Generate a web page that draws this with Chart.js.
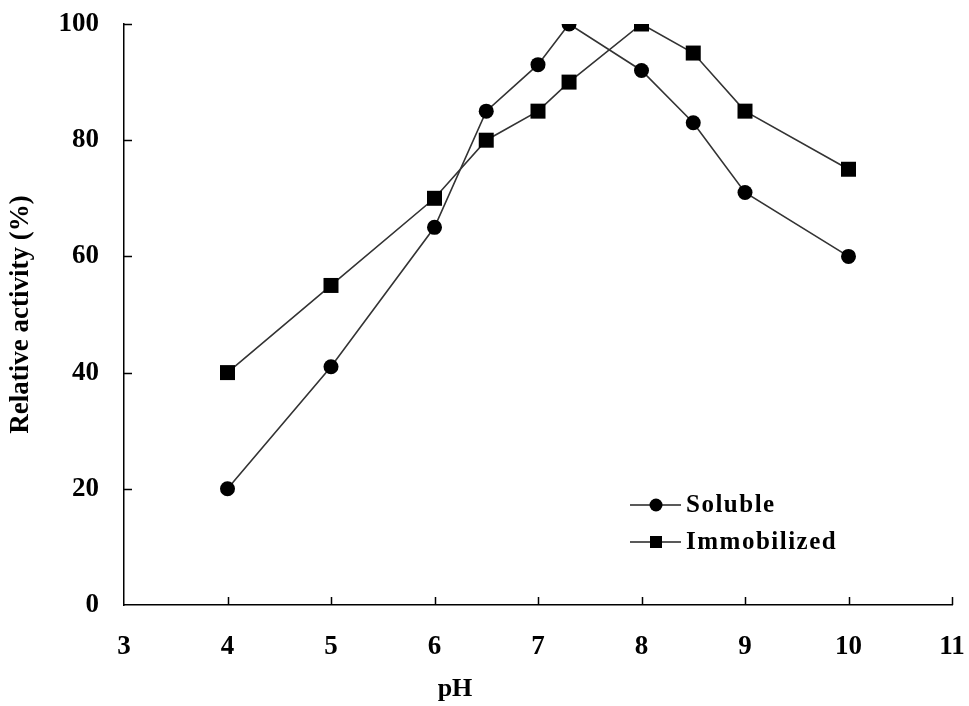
<!DOCTYPE html>
<html>
<head>
<meta charset="utf-8">
<script src="https://cdn.jsdelivr.net/npm/chart.js@4/dist/chart.umd.min.js"></script>
<style>
  body { margin: 0; background: #fff; }
  canvas { display: block; }
</style>
</head>
<body>
<canvas id="phChart" width="969" height="706"></canvas>
<script>
// --- data ---
const phValues = [4, 5, 6, 6.5, 7, 7.3, 8, 8.5, 9, 10];
const solubleActivity = [20, 41, 65, 85, 93, 100, 92, 83, 71, 60];
const immobilizedActivity = [40, 55, 70, 80, 85, 90, 100, 95, 85, 75];
const seriesNames = ['Soluble', 'Immobilized'];
const xTickRange = [3, 11];
const yTickRange = [0, 100];

const serif = '"Liberation Serif", "Times New Roman", serif';

function toPoints(ys) {
    return phValues.map((x, i) => ({ x: x, y: ys[i] }));
}

// inward tick marks, the offset "pH" label and the in-plot legend
const decorPlugin = {
    id: 'decor',
    afterDraw(chart) {
        const ctx = chart.ctx;
        const xs = chart.scales.x;
        const ys = chart.scales.y;
        ctx.save();
        ctx.strokeStyle = '#000';
        ctx.lineWidth = 1.5;
        ctx.beginPath();
        xs.ticks.forEach(t => {
            if (t.value === xTickRange[0]) return;
            const px = Math.round(xs.getPixelForValue(t.value)) + 0.5;
            ctx.moveTo(px, ys.bottom);
            ctx.lineTo(px, ys.bottom - 8);
        });
        ys.ticks.forEach(t => {
            if (t.value === yTickRange[0]) return;
            const py = Math.round(ys.getPixelForValue(t.value)) + 0.5;
            ctx.moveTo(xs.left, py);
            ctx.lineTo(xs.left + 8, py);
        });
        ctx.stroke();

        // x axis title sits left of centre in the original
        ctx.fillStyle = '#000';
        ctx.font = 'bold 26px ' + serif;
        ctx.textAlign = 'center';
        ctx.textBaseline = 'middle';
        ctx.fillText('pH', 455, 689);

        // legend
        const rows = [505, 542];
        chart.data.datasets.forEach((ds, i) => {
            const y = rows[i];
            ctx.strokeStyle = '#222';
            ctx.lineWidth = 1.6;
            ctx.beginPath();
            ctx.moveTo(630, y);
            ctx.lineTo(681, y);
            ctx.stroke();
            ctx.fillStyle = '#000';
            ctx.beginPath();
            if (ds.pointStyle === 'rect') {
                ctx.rect(650, y - 6, 12, 12);
            } else {
                ctx.arc(656, y, 6.5, 0, Math.PI * 2);
            }
            ctx.fill();
            ctx.font = 'bold 25px ' + serif;
            ctx.letterSpacing = '1.5px';
            ctx.textAlign = 'left';
            ctx.textBaseline = 'middle';
            ctx.fillText(ds.label, 686, y + 1);
        });
        ctx.restore();
    }
};

const lineStyle = {
    borderColor: '#333',
    backgroundColor: '#000',
    pointBorderColor: '#000',
    pointBackgroundColor: '#000',
    borderWidth: 1.6,
    pointBorderWidth: 0,
    tension: 0,
    fill: false
};

new Chart(document.getElementById('phChart'), {
    type: 'line',
    data: {
        datasets: [
            Object.assign({
                label: seriesNames[0],
                data: toPoints(solubleActivity),
                pointStyle: 'circle',
                pointRadius: 7.5
            }, lineStyle),
            Object.assign({
                label: seriesNames[1],
                data: toPoints(immobilizedActivity),
                pointStyle: 'rect',
                pointRadius: 10.6
            }, lineStyle)
        ]
    },
    options: {
        responsive: false,
        animation: false,
        devicePixelRatio: 1,
        layout: { padding: { top: 24, right: 17, left: 0, bottom: 0 } },
        plugins: {
            legend: { display: false },
            tooltip: { enabled: false }
        },
        scales: {
            x: {
                type: 'linear',
                min: xTickRange[0],
                max: xTickRange[1],
                ticks: {
                    stepSize: 1,
                    padding: 26,
                    color: '#000',
                    font: { family: serif, size: 27, weight: 'bold' },
                    maxRotation: 0
                },
                grid: { display: false, drawTicks: false },
                border: { display: true, color: '#000', width: 1.5 },
                afterFit(scale) {
                    scale.height = 101;
                    scale.paddingLeft = 0;
                    scale.paddingRight = 0;
                }
            },
            y: {
                min: yTickRange[0],
                max: yTickRange[1],
                ticks: {
                    stepSize: 20,
                    padding: 25,
                    color: '#000',
                    font: { family: serif, size: 27, weight: 'bold' }
                },
                grid: { display: false, drawTicks: false },
                border: { display: true, color: '#000', width: 1.5 },
                title: {
                    display: true,
                    text: 'Relative activity (%)',
                    color: '#000',
                    font: { family: serif, size: 27, weight: 'bold' },
                    padding: { top: 5, bottom: 0 }
                },
                afterFit(scale) {
                    scale.width = 124;
                    scale.paddingTop = 0;
                    scale.paddingBottom = 0;
                }
            }
        }
    },
    plugins: [decorPlugin]
});
</script>
</body>
</html>
